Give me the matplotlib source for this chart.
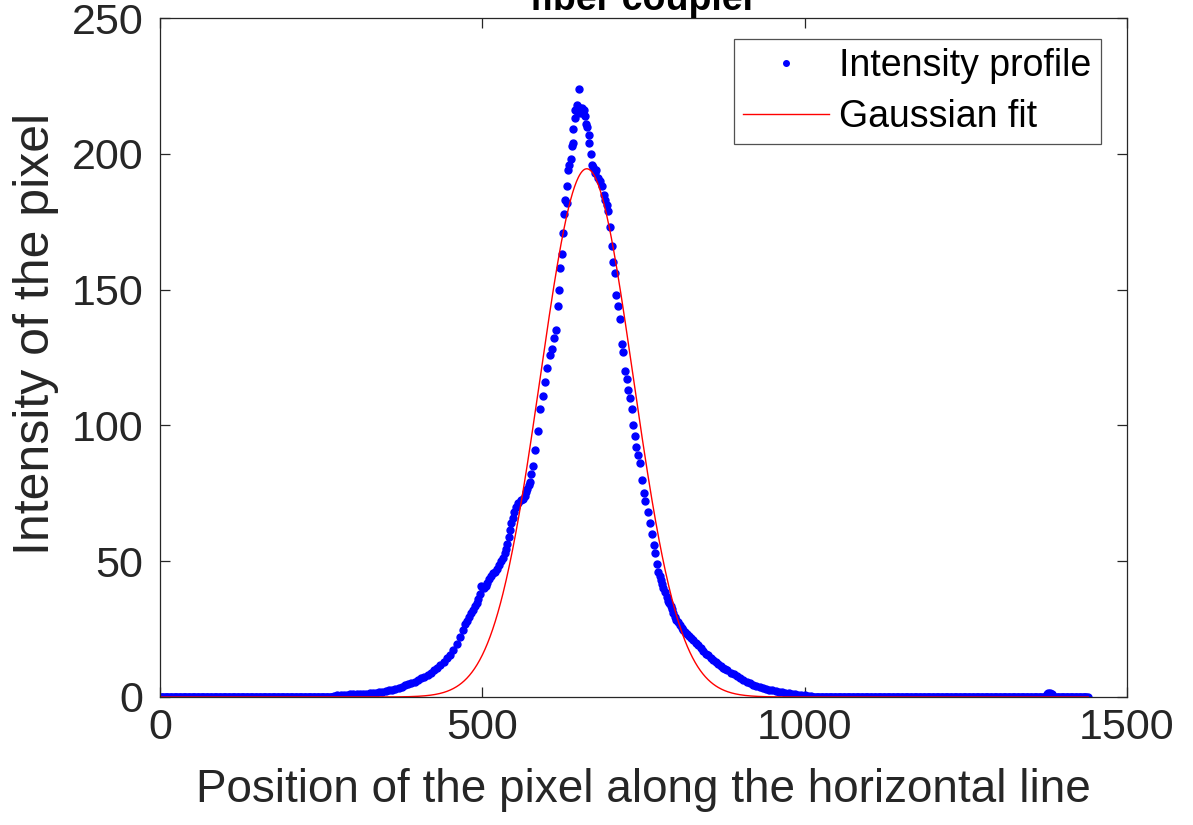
import numpy as np
import matplotlib
matplotlib.use("Agg")
import matplotlib.pyplot as plt

plt.rcParams["font.family"] = ["Liberation Sans", "DejaVu Sans"]

# Measured intensity along the horizontal line: rising flank and left tail
left_pos = [270, 275, 280, 285, 290, 295, 300, 305, 310, 315, 320, 325, 330, 335,
            340, 345, 350, 355, 360, 365, 370, 375, 380, 385, 390, 395, 400, 405,
            410, 415, 420, 425, 430, 435, 440, 445, 450, 455, 460, 465, 470, 473,
            476, 479, 482, 485, 488, 491, 494, 496, 498, 500, 502, 505, 508, 511,
            514, 517, 520, 523, 526, 529, 532, 535, 537, 539, 541, 543, 545, 547,
            549, 552, 556, 560, 563, 566, 568, 570, 572, 574, 576, 578, 582, 586,
            590, 594, 597, 601, 605, 608, 611, 614, 617, 619, 621, 623, 625, 627,
            629, 631, 631, 633, 635, 637, 639, 641, 641, 643, 644, 645, 647, 648]
left_val = [0.3, 0.6, 0.8, 0.9, 0.9, 1.0, 1.0, 1.1, 1.1, 1.2, 1.2, 1.3, 1.4, 1.6,
            1.8, 1.9, 2.1, 2.4, 2.7, 3.0, 3.4, 3.8, 4.3, 4.7, 5.2, 5.7, 6.3, 6.9,
            7.5, 8.2, 9.0, 9.9, 10.8, 11.9, 13.0, 14.2, 15.6, 17.3, 19.5, 22, 24.5, 27,
            28, 29.5, 31, 32, 33.5, 34.6, 36, 38, 41, 40.5, 40, 41, 42, 43.5,
            44.5, 45.6, 46, 47, 48.5, 50, 51, 53, 54.5, 56.5, 59, 61.5, 64, 66,
            68, 70, 71.5, 72.5, 73, 74, 75.5, 76.5, 78, 79, 82, 85, 91, 98,
            106, 111, 116, 121, 126, 128, 132, 135, 144, 150, 158, 163, 171, 178,
            183, 182, 188, 194, 196, 198, 203, 204, 209, 213, 216, 216, 218, 215]

# Peak, falling flank and right tail
right_pos = [650, 651, 653, 655, 657, 659, 661, 663, 665, 666, 668, 670, 672, 674,
             677, 680, 682, 685, 688, 691, 693, 695, 698, 701, 703, 706, 708, 711,
             713, 716, 718, 721, 724, 726, 729, 732, 734, 737, 739, 742, 744, 747,
             750, 753, 757, 760, 763, 766, 768, 771, 773, 775, 777, 779, 781, 783,
             786, 788, 790, 792, 794, 796, 799, 801, 804, 806, 809, 811, 814, 817,
             820, 823, 827, 831, 835, 839, 843, 847, 850, 854, 858, 862, 866, 870,
             873, 877, 880, 885, 890, 895, 900, 905, 910, 915, 920, 925, 930, 935,
             940, 945, 950, 955, 960, 965, 970, 975, 980, 985, 990, 995, 1000, 1005,
             1010, 1376, 1378, 1380, 1382, 1384]
right_val = [224, 217, 215, 217, 216, 214, 211, 210, 207, 204, 200, 196, 195, 193,
             194, 191, 190, 188, 185, 183, 181, 179, 173, 166, 160, 156, 148, 144,
             139, 130, 127, 120, 117, 113, 110, 106, 100, 96, 92, 89, 86, 80,
             75, 72, 68, 64, 60, 56, 53, 49, 46, 44.5, 43, 41.5, 40, 38.5,
             37, 35.5, 34.5, 33.5, 32.5, 31, 29.5, 28.5, 27.5, 26.5, 25.5, 24.5, 24, 23.2,
             22.5, 21.7, 21, 20, 19, 18, 17, 16, 15.3, 14.5, 13.6, 12.8, 12, 11.3,
             10.8, 10.2, 9.8, 9.0, 8.3, 7.6, 7.0, 6.3, 5.6, 5.0, 4.4, 3.9, 3.5, 3.2,
             2.9, 2.6, 2.4, 2.1, 1.9, 1.7, 1.5, 1.3, 1.2, 1.0, 0.9, 0.8, 0.7, 0.5,
             0.4, 1.2, 1.3, 1.3, 1.2, 1.2]

# Dark (zero) pixels at both ends of the line
line_length = 1440
dark_left = np.arange(1, 270, 2)
dark_right = np.arange(1013, line_length + 1, 2)

profile_x = np.concatenate([dark_left, left_pos, right_pos, dark_right])
profile_y = np.concatenate([np.zeros(len(dark_left)), left_val, right_val,
                            np.zeros(len(dark_right))])

# Gaussian fit parameters: amplitude, centre, width
fit_amp = 194.5
fit_mu = 662.0
fit_sigma = 72.0
fit_x = np.arange(1, line_length + 1)
fit_y = fit_amp * np.exp(-((fit_x - fit_mu) ** 2) / (2 * fit_sigma ** 2))

fig = plt.figure(figsize=(11.93, 8.25), dpi=100)
ax = fig.add_axes([160 / 1193, 1 - 697 / 825, (1127 - 160) / 1193, (697 - 18) / 825])

ax.plot(profile_x, profile_y, ".", color="#0000ff", markersize=10, label="Intensity profile")
ax.plot(fit_x, fit_y, "-", color="#ff0000", linewidth=1.0, label="Gaussian fit")

ax.set_xlim(0, 1500)
ax.set_ylim(0, 250)
ax.set_xticks([0, 500, 1000, 1500])
ax.set_yticks([0, 50, 100, 150, 200, 250])

axis_color = "#262626"
for sp in ax.spines.values():
    sp.set_color(axis_color)
    sp.set_linewidth(0.9)
ax.tick_params(direction="in", length=7.5, width=0.9, color=axis_color,
               labelcolor=axis_color, labelsize=31, top=True, right=True)
ax.tick_params(axis="x", pad=8)
ax.tick_params(axis="y", pad=12)

ax.set_xlabel("Position of the pixel along the horizontal line", fontsize=33,
              color=axis_color, labelpad=14)
ax.set_ylabel("Intensity of the pixel", fontsize=36, color=axis_color)
ax.yaxis.set_label_coords(-0.104, 0.535)

fig.text(0.5 * (160 + 1127) / 1193, 1 - 10 / 825, "fiber coupler", fontsize=27,
         fontweight="bold", ha="center", va="baseline", color="black")

leg = ax.legend(loc="upper right", bbox_to_anchor=(1101 / 1193, 1 - 39 / 825),
                bbox_transform=fig.transFigure, borderaxespad=0, fontsize=27,
                frameon=True, fancybox=False, handlelength=2.3, handletextpad=0.27,
                borderpad=0.25, labelspacing=0.38, markerscale=0.8)
leg.get_frame().set_edgecolor(axis_color)
leg.get_frame().set_linewidth(0.9)

fig.savefig("out.png", dpi=100)
